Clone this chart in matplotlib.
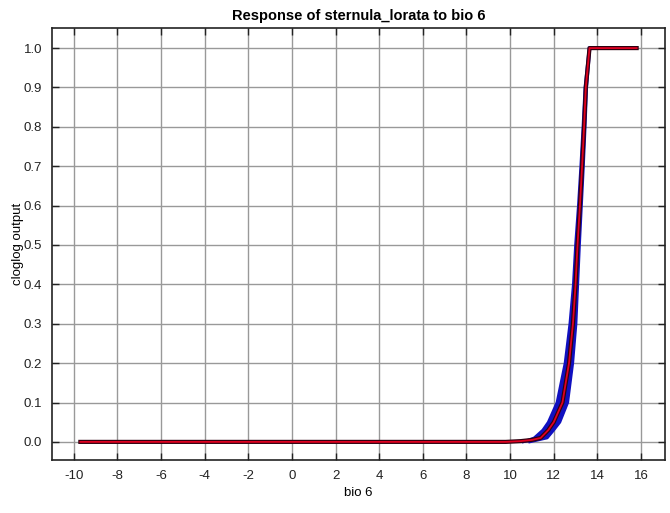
import matplotlib
matplotlib.use('Agg')
import matplotlib.pyplot as plt
import numpy as np

# mean response curve
bio6 = [-9.7, 9.8, 10.5, 11.0, 11.4, 11.75, 12.0, 12.4, 12.7, 12.88, 13.0,
        13.09, 13.2, 13.3, 13.39, 13.47, 13.64, 15.8]
mean = [0.0, 0.0, 0.002, 0.005, 0.01, 0.03, 0.05, 0.1, 0.2, 0.3, 0.4,
        0.5, 0.6, 0.7, 0.8, 0.9, 1.0, 1.0]

# +/- one std band on the rising part (left and right edge at each output level)
band_y = [0.0, 0.01, 0.03, 0.05, 0.1, 0.2, 0.3, 0.4, 0.5, 0.6, 0.7, 0.8, 0.9, 1.0]
band_left = [10.6, 11.1, 11.5, 11.75, 12.15, 12.52, 12.74, 12.9, 13.0, 13.13, 13.24, 13.34, 13.43, 13.62]
band_right = [10.9, 11.7, 12.0, 12.28, 12.64, 12.87, 13.02, 13.1, 13.18, 13.27, 13.36, 13.44, 13.51, 13.66]

xticks = np.arange(-10, 17, 2)
yticks = np.arange(0, 1.01, 0.1)

plt.rcParams['font.family'] = ['Liberation Sans', 'DejaVu Sans']

fig = plt.figure(figsize=(6.7, 5.13), dpi=100)
ax = fig.add_axes([52/670, 1 - 460/513, 613/670, 432/513])

ax.fill_betweenx(band_y, band_left, band_right, color='#1010c0', lw=0, zorder=2)
ax.plot(band_left, band_y, color='#1010c0', lw=2, zorder=2)
ax.plot(band_right, band_y, color='#1010c0', lw=2, zorder=2)
ax.plot(bio6, mean, color='#300010', lw=3, zorder=3)
ax.plot(bio6, mean, color='#e00020', lw=1.3, zorder=4)

ax.set_xlim(-11.0, 17.1)
ax.set_ylim(-0.046, 1.051)
ax.set_xticks(xticks)
ax.set_xticklabels([str(t) for t in xticks])
ax.set_yticks(yticks)
ax.set_yticklabels(['%.1f' % t for t in yticks])
ax.grid(True, color='#999999', lw=1, zorder=1)
ax.tick_params(direction='in', length=5, width=1, colors='#222222', labelsize=9.5,
               top=True, right=True, labelcolor='#222222', pad=7)
for s in ax.spines.values():
    s.set_linewidth(1.2)
    s.set_color('#222222')

ax.set_title('Response of sternula_lorata to bio 6', fontsize=10.5, fontweight='bold', pad=6)
ax.set_xlabel('bio 6', fontsize=9.5, labelpad=4)
ax.set_ylabel('cloglog output', fontsize=9.5, labelpad=0)

fig.savefig('out.png', dpi=100)
